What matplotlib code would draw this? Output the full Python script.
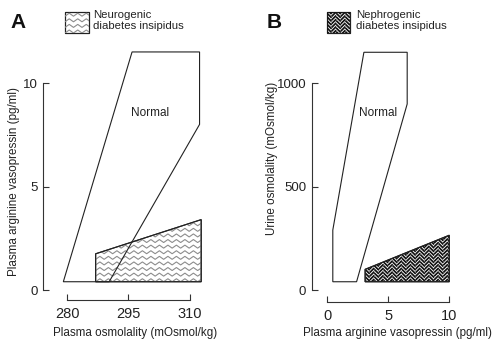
import numpy as np
import matplotlib
matplotlib.use('Agg')
import matplotlib.pyplot as plt
from matplotlib.patches import Polygon, Rectangle
from matplotlib.collections import LineCollection
from matplotlib.transforms import IdentityTransform

plt.rcParams['font.family'] = ['Liberation Sans', 'DejaVu Sans']

# panel A: plasma osmolality vs plasma AVP
a_normal_x = [279.1, 295.9, 312.4, 312.4, 290.3]
a_normal_y = [0.4, 11.5, 11.5, 8.0, 0.4]
a_neuro_x = [287.0, 287.0, 312.8, 312.8]
a_neuro_y = [0.4, 1.75, 3.4, 0.4]
a_xticks = [280, 295, 310]
a_yticks = [0, 5, 10]

# panel B: plasma AVP vs urine osmolality
b_normal_x = [0.45, 0.45, 3.0, 6.55, 6.55, 2.4]
b_normal_y = [40, 290, 1150, 1150, 900, 40]
b_nephro_x = [3.1, 3.1, 10.0, 10.0]
b_nephro_y = [40, 100, 265, 40]
b_xticks = [0, 5, 10]
b_yticks = [0, 500, 1000]

INK = '#222222'


def zigzag(parent, clip, x0, x1, y0, y1):
    # gray zigzag texture, drawn in pixels and clipped to the patch
    period, amp, gap = 8.5, 3.0, 5.6
    xs = np.arange(x0 - period, x1 + period, period / 2)
    segs = []
    for yb in np.arange(y0 - gap, y1 + gap, gap):
        ys = yb + amp * (np.arange(len(xs)) % 2)
        segs.append(np.column_stack([xs, ys]))
    lc = LineCollection(segs, colors='#8c8c8c', linewidths=0.8,
                        transform=IdentityTransform())
    lc.set_clip_path(clip)
    return lc


def herringbone(parent, clip, x0, x1, y0, y1):
    w = 4.6
    segs = []
    for i, xl in enumerate(np.arange(x0 - w, x1 + w, w)):
        off = (i % 2) * w / 2
        for yb in np.arange(y0 - 2 * w, y1 + w, w * 0.8):
            yb = yb + off
            if i % 2:
                segs.append([(xl, yb + w), (xl + w, yb)])
            else:
                segs.append([(xl, yb), (xl + w, yb + w)])
    lc = LineCollection(segs, colors='#111111', linewidths=1.25,
                        capstyle='butt', transform=IdentityTransform())
    lc.set_clip_path(clip)
    return lc


def style(ax, xlim, ylim, xticks, yticks):
    ax.set_xlim(xlim)
    ax.set_ylim(ylim)
    ax.patch.set_visible(False)
    for s in ['top', 'right']:
        ax.spines[s].set_visible(False)
    for s in ['left', 'bottom']:
        ax.spines[s].set_color('#333333')
        ax.spines[s].set_linewidth(0.8)
    ax.spines['left'].set_bounds(yticks[0], yticks[-1])
    ax.spines['bottom'].set_bounds(xticks[0], xticks[-1])
    ax.set_xticks(xticks)
    ax.set_yticks(yticks)
    ax.tick_params(direction='in', length=4, width=0.8, color='#333333',
                   labelcolor=INK)
    ax.tick_params(axis='x', labelsize=10.5, pad=5)
    ax.tick_params(axis='y', labelsize=9.5, pad=4)


def add_shape(ax, xs, ys, texture):
    pts = np.column_stack([xs, ys])
    patch = Polygon(pts, closed=True, facecolor='white', edgecolor=INK,
                    linewidth=0.8, zorder=1)
    ax.add_patch(patch)
    px = ax.transData.transform(pts)
    lc = texture(ax, patch, px[:, 0].min(), px[:, 0].max(),
                 px[:, 1].min(), px[:, 1].max())
    lc.set_zorder(1.5)
    ax.add_collection(lc, autolim=False)
    edge = Polygon(pts, closed=True, fill=False, edgecolor=INK,
                   linewidth=0.8, zorder=2)
    ax.add_patch(edge)


def add_outline(ax, xs, ys):
    ax.add_patch(Polygon(np.column_stack([xs, ys]), closed=True, fill=False,
                         edgecolor=INK, linewidth=0.8, zorder=3))


def swatch(fig, x, y, w, h, texture):
    W, H = fig.bbox.width, fig.bbox.height
    rect = Rectangle((x / W, 1 - (y + h) / H), w / W, h / H,
                     transform=fig.transFigure, facecolor='white',
                     edgecolor=INK, linewidth=0.8)
    fig.add_artist(rect)
    lc = texture(fig, rect, x, x + w, H - y - h, H - y)
    fig.add_artist(lc)
    fig.add_artist(Rectangle((x / W, 1 - (y + h) / H), w / W, h / H,
                             transform=fig.transFigure, fill=False,
                             edgecolor=INK, linewidth=0.8))


fig = plt.figure(figsize=(5, 3.47), dpi=100)

# ---- A ----
axA = fig.add_axes([0.086, 0.1354, 0.324, 0.7205])
style(axA, (274.13, 313.73), (-0.483, 11.594), a_xticks, a_yticks)
add_shape(axA, a_neuro_x, a_neuro_y, zigzag)
add_outline(axA, a_normal_x, a_normal_y)
axA.text(300.3, 8.55, 'Normal', fontsize=8.5, color=INK,
         ha='center', va='center')
axA.set_xlabel('Plasma osmolality (mOsmol/kg)', fontsize=8.4, color=INK)
axA.xaxis.set_label_coords(0.27, 0.0403, transform=fig.transFigure)
axA.xaxis.label.set_va('center')
axA.set_ylabel('Plasma arginine vasopressin (pg/ml)', fontsize=8.4, color=INK)
axA.yaxis.set_label_coords(0.028, 0.4755, transform=fig.transFigure)
axA.yaxis.label.set_va('center')

# ---- B ----
axB = fig.add_axes([0.6234, 0.1305, 0.2966, 0.7254])
style(axB, (-1.28, 10.88), (-56.6, 1161), b_xticks, b_yticks)
add_shape(axB, b_nephro_x, b_nephro_y, herringbone)
add_outline(axB, b_normal_x, b_normal_y)
axB.text(4.2, 856, 'Normal', fontsize=8.5, color=INK,
         ha='center', va='center')
axB.set_xlabel('Plasma arginine vasopressin (pg/ml)', fontsize=8.4, color=INK)
axB.xaxis.set_label_coords(0.795, 0.0403, transform=fig.transFigure)
axB.xaxis.label.set_va('center')
axB.set_ylabel('Urine osmolality (mOsmol/kg)', fontsize=8.4, color=INK)
axB.yaxis.set_label_coords(0.5434, 0.5432, transform=fig.transFigure)
axB.yaxis.label.set_va('center')

# panel letters and legend keys
fig.text(18.5 / 500, 1 - 22.5 / 347, 'A', fontsize=15, fontweight='bold',
         ha='center', va='center', color='#111111')
fig.text(274 / 500, 1 - 22.5 / 347, 'B', fontsize=15, fontweight='bold',
         ha='center', va='center', color='#111111')

swatch(fig, 65, 12, 24, 21, zigzag)
fig.text(93 / 500, 1 - 10 / 347, 'Neurogenic\ndiabetes insipidus',
         fontsize=8.2, color=INK, ha='left', va='top', linespacing=1.15)
swatch(fig, 327, 12, 23, 21, herringbone)
fig.text(356 / 500, 1 - 10 / 347, 'Nephrogenic\ndiabetes insipidus',
         fontsize=8.2, color=INK, ha='left', va='top', linespacing=1.15)

fig.savefig('out.png', dpi=100)
